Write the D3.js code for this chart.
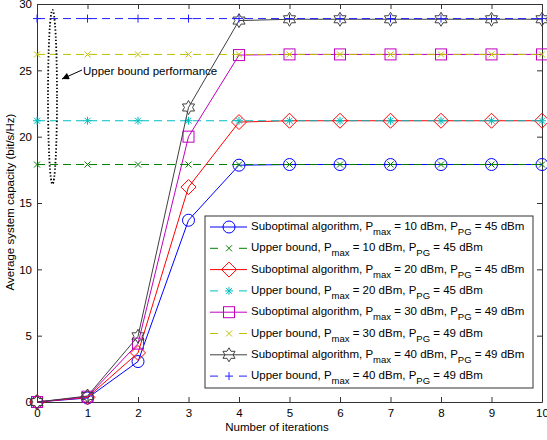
<!DOCTYPE html>
<html>
<head>
<meta charset="utf-8">
<script src="https://cdn.jsdelivr.net/npm/d3@7"></script>
<style>
  body { margin: 0; background: #fff; }
  text { font-family: "Liberation Sans", Arial, sans-serif; }
</style>
</head>
<body>
<div id="chart"></div>
<script>
var width = 547, height = 440;

// data
var iterations = [0, 1, 2, 3, 4, 5, 6, 7, 8, 9, 10];
var sub10 = [0, 0.3, 3.05, 13.7, 17.85, 17.9, 17.9, 17.9, 17.9, 17.9, 17.9];
var ub10  = [17.9, 17.9, 17.9, 17.9, 17.9, 17.9, 17.9, 17.9, 17.9, 17.9, 17.9];
var sub20 = [0, 0.35, 3.7, 16.2, 21.1, 21.2, 21.2, 21.2, 21.2, 21.2, 21.2];
var ub20  = [21.2, 21.2, 21.2, 21.2, 21.2, 21.2, 21.2, 21.2, 21.2, 21.2, 21.2];
var sub30 = [0, 0.4, 4.4, 20.0, 26.15, 26.2, 26.2, 26.2, 26.2, 26.2, 26.2];
var ub30  = [26.2, 26.2, 26.2, 26.2, 26.2, 26.2, 26.2, 26.2, 26.2, 26.2, 26.2];
var sub40 = [0, 0.45, 4.95, 22.2, 28.75, 28.85, 28.85, 28.85, 28.85, 28.85, 28.85];
var ub40  = [28.9, 28.9, 28.9, 28.9, 28.9, 28.9, 28.9, 28.9, 28.9, 28.9, 28.9];
var xTicks = [0, 1, 2, 3, 4, 5, 6, 7, 8, 9, 10];
var yTicks = [0, 5, 10, 15, 20, 25, 30];

var series = [
  {values: sub10, color: '#0000ff', dash: null, marker: 'circle', pmax: '10', ppg: '45', name: 'Suboptimal algorithm'},
  {values: ub10,  color: '#008000', dash: '8,5', marker: 'x', pmax: '10', ppg: '45', name: 'Upper bound'},
  {values: sub20, color: '#ff0000', dash: null, marker: 'diamond', pmax: '20', ppg: '45', name: 'Suboptimal algorithm'},
  {values: ub20,  color: '#00bfbf', dash: '8,5', marker: 'asterisk', pmax: '20', ppg: '45', name: 'Upper bound'},
  {values: sub30, color: '#bf00bf', dash: null, marker: 'square', pmax: '30', ppg: '49', name: 'Suboptimal algorithm'},
  {values: ub30,  color: '#bfbf00', dash: '8,5', marker: 'x', pmax: '30', ppg: '49', name: 'Upper bound'},
  {values: sub40, color: '#404040', dash: null, marker: 'hexagram', pmax: '40', ppg: '49', name: 'Suboptimal algorithm'},
  {values: ub40,  color: '#2020ff', dash: '8,5', marker: 'plus', pmax: '40', ppg: '49', name: 'Upper bound'}
];

var svg = d3.select('#chart')
    .append('svg')
    .attr('width', width)
    .attr('height', height);

svg.append('rect').attr('width', width).attr('height', height).attr('fill', '#fff');

var x = d3.scaleLinear().domain([0, 10]).range([37, 542]);
var y = d3.scaleLinear().domain([0, 30]).range([402, 4]);

// axes (MATLAB box style, inward ticks)
function styleAxis(g) {
  g.selectAll('path').attr('stroke', '#333');
  g.selectAll('line').attr('stroke', '#333');
  g.selectAll('text').attr('fill', '#000').style('font-size', '11.5px')
    .style('font-family', '"Liberation Sans", Arial, sans-serif');
}
svg.append('g').attr('transform', 'translate(0,402)')
  .call(d3.axisBottom(x).tickValues(xTicks).tickSizeInner(-5).tickSizeOuter(0).tickPadding(7))
  .call(styleAxis);
svg.append('g').attr('transform', 'translate(0,4)')
  .call(d3.axisTop(x).tickValues(xTicks).tickSizeInner(-5).tickSizeOuter(0).tickFormat(''))
  .call(styleAxis);
svg.append('g').attr('transform', 'translate(37,0)')
  .call(d3.axisLeft(y).tickValues(yTicks).tickSizeInner(-5).tickSizeOuter(0).tickPadding(5))
  .call(styleAxis);
svg.append('g').attr('transform', 'translate(542,0)')
  .call(d3.axisRight(y).tickValues(yTicks).tickSizeInner(-5).tickSizeOuter(0).tickFormat(''))
  .call(styleAxis);

// marker drawing
function hexagram(r) {
  var pts = [];
  for (var i = 0; i < 12; i++) {
    var a = -Math.PI / 2 + i * Math.PI / 6;
    var rr = (i % 2 === 0) ? r : r * 0.58;
    pts.push([rr * Math.cos(a), rr * Math.sin(a)]);
  }
  return 'M' + pts.join('L') + 'Z';
}
function drawMarker(g, type, color) {
  var m = g.append('g').attr('fill', 'none').attr('stroke', color).attr('stroke-width', 1);
  if (type === 'circle') m.append('circle').attr('r', 6);
  else if (type === 'diamond') m.append('path').attr('d', 'M0,-7.5L7.5,0L0,7.5L-7.5,0Z');
  else if (type === 'square') m.append('rect').attr('x', -5.5).attr('y', -5.5).attr('width', 11).attr('height', 11);
  else if (type === 'hexagram') m.append('path').attr('d', hexagram(7));
  else if (type === 'x') m.append('path').attr('d', 'M-3,-3L3,3M-3,3L3,-3');
  else if (type === 'plus') m.append('path').attr('d', 'M-4,0L4,0M0,-4L0,4');
  else if (type === 'asterisk') m.append('path').attr('d', 'M-4,0L4,0M0,-4L0,4M-3,-3L3,3M-3,3L3,-3');
}

var line = d3.line()
  .x(function(d, i) { return x(iterations[i]); })
  .y(function(d) { return y(d); });

series.forEach(function(s) {
  svg.append('path')
    .datum(s.values)
    .attr('d', line)
    .attr('fill', 'none')
    .attr('stroke', s.color)
    .attr('stroke-width', 1)
    .attr('stroke-dasharray', s.dash);
  s.values.forEach(function(v, i) {
    var g = svg.append('g').attr('transform', 'translate(' + x(iterations[i]) + ',' + y(v) + ')');
    drawMarker(g, s.marker, s.color);
  });
});

// annotation: dotted ellipse + arrow
svg.append('ellipse')
  .attr('cx', 52.5).attr('cy', 97).attr('rx', 4.5).attr('ry', 87)
  .attr('fill', 'none').attr('stroke', '#000').attr('stroke-width', 1.8)
  .attr('stroke-dasharray', '1.4,2');

svg.append('defs').append('marker')
  .attr('id', 'arrow').attr('viewBox', '0 0 10 10').attr('refX', 10).attr('refY', 5)
  .attr('markerWidth', 9).attr('markerHeight', 7).attr('orient', 'auto')
  .append('path').attr('d', 'M0,0L10,5L0,10Z').attr('fill', '#000');
svg.append('line')
  .attr('x1', 82).attr('y1', 70).attr('x2', 62).attr('y2', 79)
  .attr('stroke', '#000').attr('stroke-width', 1)
  .attr('marker-end', 'url(#arrow)');
svg.append('text').attr('x', 83).attr('y', 75).style('font-size', '11.5px').text('Upper bound performance');

// axis labels
svg.append('text').attr('x', 277).attr('y', 431).attr('text-anchor', 'middle')
  .style('font-size', '11.5px').text('Number of iterations');
svg.append('text').attr('transform', 'translate(14,202) rotate(-90)').attr('text-anchor', 'middle')
  .style('font-size', '11.5px').text('Average system capacity (bit/s/Hz)');

// legend
var legend = svg.append('g');
legend.append('rect').attr('x', 205).attr('y', 216).attr('width', 328).attr('height', 172)
  .attr('fill', '#fff').attr('stroke', '#333').attr('stroke-width', 1);

series.forEach(function(s, i) {
  var ly = 227 + i * 21.3;
  var g = legend.append('g').attr('transform', 'translate(0,' + ly + ')');
  if (s.dash) {
    g.append('line').attr('x1', 210).attr('x2', 218).attr('stroke', s.color);
    g.append('line').attr('x1', 239).attr('x2', 247).attr('stroke', s.color);
  } else {
    g.append('line').attr('x1', 210).attr('x2', 247).attr('stroke', s.color);
  }
  var mg = g.append('g').attr('transform', 'translate(229,0)');
  drawMarker(mg, s.marker, s.color);
  var t = g.append('text').attr('x', 251).attr('y', 3).style('font-size', '11.5px');
  t.append('tspan').text(s.name + ', P');
  t.append('tspan').attr('dy', 5).style('font-size', '9.5px').text('max');
  t.append('tspan').attr('dy', -5).text(' = ' + s.pmax + ' dBm, P');
  t.append('tspan').attr('dy', 5).style('font-size', '9.5px').text('PG');
  t.append('tspan').attr('dy', -5).text(' = ' + s.ppg + ' dBm');
});
</script>
</body>
</html>
